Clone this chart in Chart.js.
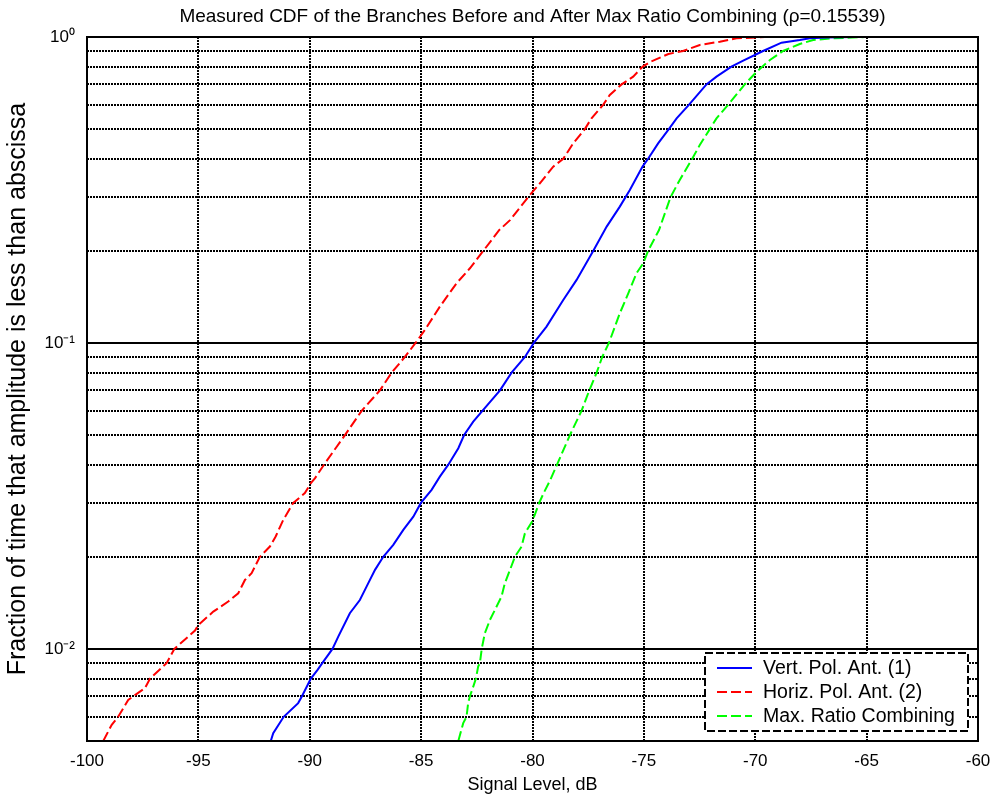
<!DOCTYPE html>
<html><head><meta charset="utf-8">
<script src="https://cdn.jsdelivr.net/npm/chart.js@4.4.1/dist/chart.umd.min.js"></script>
<style>html,body{margin:0;padding:0;background:#fff;}#wrap{width:993px;height:799px;}</style>
</head><body><div id="wrap"><canvas id="c" width="993" height="799"></canvas></div>
<script>
const chartTitle = 'Measured CDF of the Branches Before and After Max Ratio Combining (\u03C1=0.15539)';
const xTitle = 'Signal Level, dB';
const yTitle = 'Fraction of time that amplitude is less than abscissa';
const xTicks = [-100, -95, -90, -85, -80, -75, -70, -65, -60];
const yGridValues = [0.005, 0.006, 0.007, 0.008, 0.009,
  0.01, 0.02, 0.03, 0.04, 0.05, 0.06, 0.07, 0.08, 0.09,
  0.1, 0.2, 0.3, 0.4, 0.5, 0.6, 0.7, 0.8, 0.9, 1];
const yLabelValues = [0.01, 0.1, 1];
const yLabelTexts = ['10\u207B\u00B2', '10\u207B\u00B9', '10\u2070'];
const seriesLabels = ['Vert. Pol. Ant. (1)', 'Horiz. Pol. Ant. (2)', 'Max. Ratio Combining'];

// Vertical polarisation antenna (1)
const vertX = [-91.75, -91.64, -91.17, -90.52, -90.35, -89.95, -89.65, -89.43, -88.98, -88.72,
  -88.20, -87.75, -87.45, -87.07, -86.70, -86.25, -85.80, -85.35, -85.01, -84.53,
  -84.16, -83.78, -83.33, -83.07, -82.66, -82.25, -81.46, -80.94, -80.34, -79.94,
  -79.37, -78.62, -78.02, -77.27, -76.67, -76.08, -75.63, -75.06, -74.81, -74.36,
  -73.88, -73.53, -72.98, -72.19, -71.74, -71.07, -70.54, -69.65, -68.82, -68.00,
  -67.55, -66.80, -65.60];
const vertP = [0.0050, 0.0053, 0.0060, 0.00665, 0.0070, 0.0080, 0.00854, 0.0090, 0.0100, 0.01097,
  0.01308, 0.01445, 0.01598, 0.01813, 0.0200, 0.02188, 0.02449, 0.02705, 0.0300, 0.0331,
  0.03656, 0.0400, 0.0453, 0.0500, 0.0553, 0.0600, 0.0700, 0.0800, 0.0900, 0.1000,
  0.1131, 0.1382, 0.1607, 0.2000, 0.2400, 0.279, 0.316, 0.377, 0.400, 0.449,
  0.500, 0.542, 0.600, 0.700, 0.742, 0.800, 0.837, 0.900, 0.958, 0.977,
  0.990, 0.996, 1.000];

// Horizontal polarisation antenna (2)
const horizX = [-99.27, -98.89, -98.60, -98.15, -97.92, -97.40, -97.17, -96.42, -96.08, -95.15,
  -95.00, -94.33, -93.66, -93.21, -92.91, -92.61, -92.24, -91.79, -91.53, -91.19,
  -90.74, -90.22, -89.95, -89.77, -89.36, -88.79, -88.42, -87.67, -86.85, -86.32,
  -85.73, -85.25, -84.83, -84.16, -83.41, -82.81, -82.21, -81.49, -81.01, -80.19,
  -79.67, -79.07, -78.62, -78.17, -77.65, -77.35, -76.83, -76.53, -76.00, -75.48,
  -75.05, -74.70, -73.90, -73.24, -72.49, -71.59, -70.84, -69.57];
const horizP = [0.0050, 0.00565, 0.0060, 0.00681, 0.0070, 0.00744, 0.0080, 0.0090, 0.0100, 0.01148,
  0.01198, 0.01324, 0.01428, 0.0152, 0.0168, 0.01767, 0.0200, 0.0216, 0.0233, 0.0264,
  0.0300, 0.0323, 0.0348, 0.0361, 0.0400, 0.0458, 0.0500, 0.0600, 0.0700, 0.0800,
  0.0900, 0.1000, 0.1103, 0.1314, 0.1567, 0.1754, 0.2000, 0.2340, 0.252, 0.300,
  0.3326, 0.3768, 0.400, 0.4494, 0.500, 0.5424, 0.600, 0.6464, 0.700, 0.742,
  0.800, 0.830, 0.880, 0.900, 0.942, 0.965, 0.990, 1.000];

// Maximum ratio combining
const mrcX = [-83.33, -83.11, -82.96, -82.89, -82.81, -82.66, -82.54, -82.44, -82.36, -82.28,
  -82.14, -81.91, -81.69, -81.39, -81.24, -81.01, -80.79, -80.49, -80.34, -80.00,
  -79.70, -79.50, -79.20, -78.90, -78.32, -77.80, -77.45, -77.12, -76.87, -76.57,
  -76.30, -76.08, -75.70, -75.33, -75.03, -74.81, -74.32, -73.80, -73.39, -72.83,
  -72.49, -72.04, -71.74, -71.22, -70.47, -69.94, -69.34, -68.75, -68.00, -67.40,
  -66.50, -65.08];
const mrcP = [0.0050, 0.00572, 0.0060, 0.00665, 0.0070, 0.00753, 0.0080, 0.00875, 0.0090, 0.0100,
  0.01125, 0.01244, 0.0134, 0.01483, 0.0164, 0.01813, 0.0200, 0.0216, 0.02388, 0.0262,
  0.0300, 0.0323, 0.0357, 0.0400, 0.0500, 0.0600, 0.0700, 0.0800, 0.0900, 0.1000,
  0.1131, 0.1250, 0.1453, 0.1690, 0.1820, 0.2000, 0.2340, 0.3000, 0.341, 0.400,
  0.4436, 0.500, 0.542, 0.600, 0.700, 0.770, 0.841, 0.900, 0.949, 0.978,
  0.990, 1.000];

const FONT = "'Liberation Sans', Arial, Helvetica, sans-serif";
const toPts = (xs, ys) => xs.map((x, i) => ({x: x, y: ys[i]}));

const titlePlugin = {
  id: 'plotTitle',
  afterDraw(chart) {
    const {ctx, chartArea} = chart;
    ctx.save();
    ctx.font = '19px ' + FONT;
    ctx.fillStyle = '#000';
    ctx.textAlign = 'center';
    ctx.textBaseline = 'middle';
    ctx.fillText(chartTitle, (chartArea.left + chartArea.right) / 2, 17);
    ctx.restore();
  }
};

const framePlugin = {
  id: 'frame',
  afterDatasetsDraw(chart) {
    const {ctx, chartArea: a} = chart;
    ctx.save();
    ctx.strokeStyle = '#000';
    ctx.lineWidth = 2;
    ctx.setLineDash([]);
    ctx.strokeRect(a.left, a.top, a.right - a.left, a.bottom - a.top);
    // legend box
    const w = 263, h = 78;
    const x0 = a.right - 10 - w, y0 = a.bottom - 10 - h;
    ctx.fillStyle = '#fff';
    ctx.fillRect(x0, y0, w, h);
    ctx.setLineDash([8, 3]);
    ctx.strokeRect(x0, y0, w, h);
    ctx.font = '19.5px ' + FONT;
    ctx.textBaseline = 'middle';
    ctx.textAlign = 'left';
    chart.data.datasets.forEach((ds, i) => {
      const yy = y0 + 15 + i * 24;
      ctx.setLineDash(ds.borderDash || []);
      ctx.strokeStyle = ds.borderColor;
      ctx.lineWidth = ds.borderWidth;
      ctx.beginPath();
      ctx.moveTo(x0 + 12, yy);
      ctx.lineTo(x0 + 47, yy);
      ctx.stroke();
      ctx.setLineDash([]);
      ctx.fillStyle = '#000';
      ctx.fillText(ds.label, x0 + 58, yy + 1);
    });
    ctx.restore();
  }
};

const isDecade = v => yLabelValues.indexOf(v) >= 0;

new Chart(document.getElementById('c'), {
  type: 'line',
  data: {
    datasets: [
      {label: seriesLabels[0], data: toPts(vertX, vertP), borderColor: '#0000ff', borderWidth: 2,
       borderDash: [], pointRadius: 0, fill: false, tension: 0},
      {label: seriesLabels[1], data: toPts(horizX, horizP), borderColor: '#ff0000', borderWidth: 2,
       borderDash: [10, 4], pointRadius: 0, fill: false, tension: 0},
      {label: seriesLabels[2], data: toPts(mrcX, mrcP), borderColor: '#00ff00', borderWidth: 2,
       borderDash: [10, 4], pointRadius: 0, fill: false, tension: 0}
    ]
  },
  options: {
    responsive: false,
    animation: false,
    devicePixelRatio: 1,
    layout: {padding: {top: 37, right: 15, left: 0, bottom: 0}},
    plugins: {legend: {display: false}, title: {display: false}, tooltip: {enabled: false}},
    scales: {
      x: {
        type: 'linear', min: -100, max: -60,
        afterBuildTicks: s => { s.ticks = xTicks.map(v => ({value: v})); },
        afterFit: s => { s.height = 58; s.paddingLeft = 0; s.paddingRight = 0; },
        ticks: {autoSkip: false, maxRotation: 0, padding: 10, color: '#000',
                font: {family: FONT, size: 17}, callback: v => String(v)},
        grid: {color: '#000', lineWidth: 2, drawTicks: false},
        border: {display: false, dash: [2, 1]},
        title: {display: true, text: xTitle, color: '#000', font: {family: FONT, size: 18},
                padding: {top: 0, bottom: 3}}
      },
      y: {
        type: 'logarithmic', min: 0.005, max: 1,
        afterBuildTicks: s => { s.ticks = yGridValues.map(v => ({value: v})); },
        afterFit: s => { s.width = 87; s.paddingTop = 0; s.paddingBottom = 0; },
        ticks: {autoSkip: false, padding: 12, color: '#000', font: {family: FONT, size: 17},
                callback: v => { const i = yLabelValues.indexOf(v); return i >= 0 ? yLabelTexts[i] : ''; }},
        grid: {color: '#000', lineWidth: 2, drawTicks: false},
        border: {display: false, dash: ctx => (ctx.tick && isDecade(ctx.tick.value)) ? [] : [2, 1]},
        title: {display: true, text: yTitle, color: '#000', font: {family: FONT, size: 25},
                padding: {top: 3, bottom: 0}}
      }
    }
  },
  plugins: [titlePlugin, framePlugin]
});
</script>
</body></html>
